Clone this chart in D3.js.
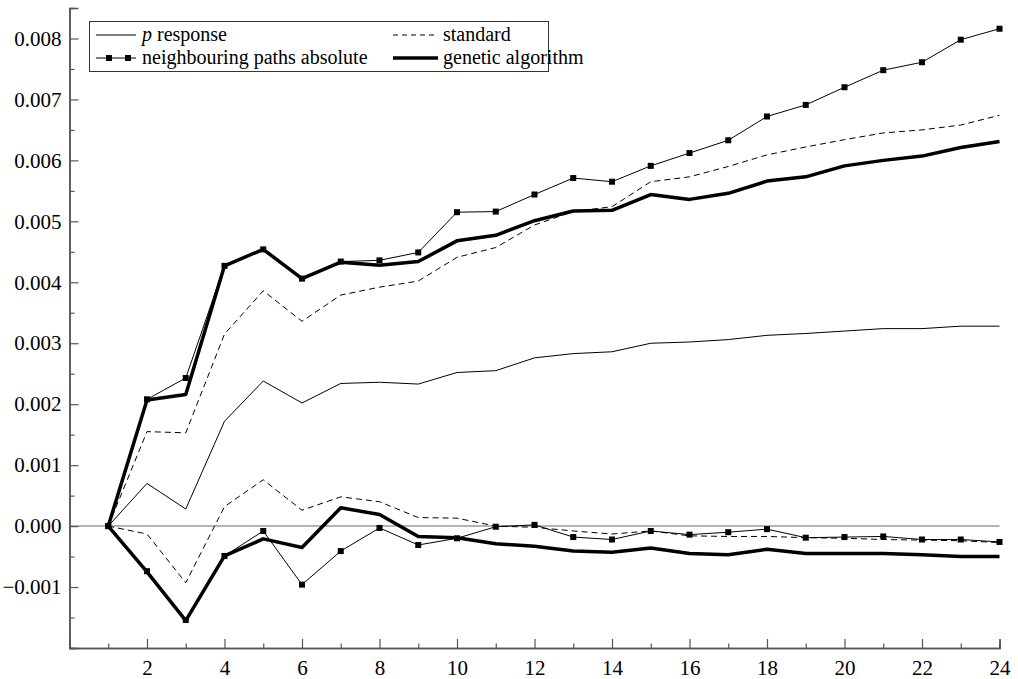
<!DOCTYPE html>
<html>
<head>
<meta charset="utf-8">
<script src="https://cdn.jsdelivr.net/npm/d3@7"></script>
<style>
  html, body { margin: 0; padding: 0; background: #fff; }
  svg { display: block; }
</style>
</head>
<body>
<svg id="chart" width="1018" height="679"></svg>
<script>
// ---- data ----
const periods = d3.range(1, 25);
const xTickLabels = [2, 4, 6, 8, 10, 12, 14, 16, 18, 20, 22, 24];
const yTickValues = [-0.001, 0, 0.001, 0.002, 0.003, 0.004, 0.005, 0.006, 0.007, 0.008];

const pResponse = [0, 0.0007, 0.00028, 0.00172, 0.00238, 0.00202, 0.00234, 0.00236, 0.00233, 0.00252, 0.00255, 0.00276, 0.00283, 0.00286, 0.003, 0.00302, 0.00306, 0.00313, 0.00316, 0.0032, 0.00324, 0.00324, 0.00328, 0.00328];
const standardUpper = [0, 0.00155, 0.00153, 0.00315, 0.00386, 0.00336, 0.00379, 0.00392, 0.00402, 0.00441, 0.00457, 0.00494, 0.00516, 0.00524, 0.00565, 0.00573, 0.0059, 0.00609, 0.00622, 0.00634, 0.00645, 0.0065, 0.00658, 0.00674];
const standardLower = [0, -0.00013, -0.00093, 0.00032, 0.00076, 0.00026, 0.00048, 0.0004, 0.00014, 0.00013, 0.0, -0.00002, -0.00008, -0.00013, -0.00008, -0.00016, -0.00017, -0.00017, -0.00019, -0.0002, -0.00022, -0.00023, -0.00024, -0.00027];
const neighbourUpper = [0, 0.00208, 0.00243, 0.00427, 0.00454, 0.00406, 0.00434, 0.00436, 0.00449, 0.00515, 0.00516, 0.00544, 0.00571, 0.00565, 0.00591, 0.00612, 0.00633, 0.00672, 0.00691, 0.0072, 0.00748, 0.00761, 0.00798, 0.00816];
const neighbourLower = [0, -0.00074, -0.00154, -0.00049, -0.00008, -0.00096, -0.00041, -0.00003, -0.00031, -0.0002, -0.00001, 0.00002, -0.00018, -0.00022, -0.00008, -0.00014, -0.0001, -0.00005, -0.00019, -0.00018, -0.00017, -0.00022, -0.00022, -0.00026];
const geneticUpper = [0, 0.00207, 0.00216, 0.00427, 0.00454, 0.00406, 0.00433, 0.00428, 0.00434, 0.00468, 0.00477, 0.00501, 0.00517, 0.00518, 0.00544, 0.00536, 0.00546, 0.00566, 0.00573, 0.00591, 0.006, 0.00607, 0.00621, 0.00631];
const geneticLower = [0, -0.00075, -0.00155, -0.00049, -0.00021, -0.00035, 0.0003, 0.00019, -0.00017, -0.00019, -0.00029, -0.00033, -0.00041, -0.00043, -0.00036, -0.00045, -0.00047, -0.00038, -0.00045, -0.00045, -0.00045, -0.00047, -0.0005, -0.0005];

// ---- scales ----
const FONT = '"Liberation Serif"';
const svg = d3.select("#chart");
const x = d3.scaleLinear().domain([0, 24]).range([69.5, 999.5]);
const y = d3.scaleLinear().domain([-0.002, 0.0085]).range([648, 8]);

const line = d3.line().x((d, i) => x(periods[i])).y(d => y(d));

// zero line
svg.append("line")
  .attr("x1", x(0)).attr("x2", x(24))
  .attr("y1", y(0)).attr("y2", y(0))
  .attr("stroke", "#9a9a9a").attr("stroke-width", 1.5);

function drawLine(data, opts) {
  svg.append("path").datum(data)
    .attr("d", line)
    .attr("fill", "none")
    .attr("stroke", "#000")
    .attr("stroke-width", opts.width)
    .attr("stroke-dasharray", opts.dash || null)
    .attr("stroke-linejoin", "round");
  if (opts.markers) {
    svg.append("g").selectAll("rect").data(data).join("rect")
      .attr("x", (d, i) => x(periods[i]) - 3)
      .attr("y", d => y(d) - 3)
      .attr("width", 6).attr("height", 6)
      .attr("fill", "#000");
  }
}

drawLine(pResponse, { width: 1 });
drawLine(standardUpper, { width: 1, dash: "6,4" });
drawLine(standardLower, { width: 1, dash: "6,4" });
drawLine(geneticUpper, { width: 3.5 });
drawLine(geneticLower, { width: 3.5 });
drawLine(neighbourUpper, { width: 1, markers: true });
drawLine(neighbourLower, { width: 1, markers: true });

// ---- axes ----
const axisColor = "#555";
const yAxis = svg.append("g").attr("transform", `translate(${x(0)},0)`)
  .call(d3.axisRight(y).tickValues(yTickValues).tickSize(9).tickFormat(d3.format(".3f")));
const yMinor = svg.append("g").attr("transform", `translate(${x(0)},0)`)
  .call(d3.axisRight(y).tickValues(d3.range(-0.0015, 0.008, 0.001)).tickSize(5).tickFormat(""));
[yAxis, yMinor].forEach(g => {
  g.attr("font-family", null).attr("font-size", null);
  g.select(".domain").attr("stroke", axisColor).attr("stroke-width", 1.5);
  g.selectAll(".tick line").attr("stroke", axisColor).attr("stroke-width", 1.2);
});
yAxis.selectAll(".tick text")
  .attr("x", -8).attr("text-anchor", "end")
  .attr("fill", "#000")
  .style("font-family", FONT).style("font-size", "21px");

const xAxis = svg.append("g").attr("transform", `translate(0,${y(-0.002)})`)
  .call(d3.axisTop(x).tickValues(xTickLabels).tickSize(9));
const xMinor = svg.append("g").attr("transform", `translate(0,${y(-0.002)})`)
  .call(d3.axisTop(x).tickValues(d3.range(1, 24, 2)).tickSize(4.5).tickFormat(""));
[xAxis, xMinor].forEach(g => {
  g.attr("font-family", null).attr("font-size", null);
  g.select(".domain").attr("stroke", axisColor).attr("stroke-width", 1.5);
  g.selectAll(".tick line").attr("stroke", axisColor).attr("stroke-width", 1.2);
});
xAxis.selectAll(".tick text")
  .attr("y", 12).attr("dy", "0.71em")
  .attr("fill", "#000")
  .style("font-family", FONT).style("font-size", "21px");

// ---- legend ----
const lg = svg.append("g");
lg.append("rect").attr("x", 89.5).attr("y", 21.5).attr("width", 459).attr("height", 50)
  .attr("fill", "#fff").attr("stroke", "#333").attr("stroke-width", 1);
const rows = [35, 58];
const legendItems = [
  { col: 0, row: 0, label: "response", italic: "p", width: 1 },
  { col: 1, row: 0, label: "standard", width: 1, dash: "5,4" },
  { col: 0, row: 1, label: "neighbouring paths absolute", width: 1, markers: true },
  { col: 1, row: 1, label: "genetic algorithm", width: 3.5 }
];
const colX = [[96, 136, 142], [393, 438, 443]];
legendItems.forEach(it => {
  const [x1, x2, tx] = colX[it.col];
  const yy = rows[it.row];
  lg.append("line").attr("x1", x1).attr("x2", x2).attr("y1", yy).attr("y2", yy)
    .attr("stroke", "#000").attr("stroke-width", it.width)
    .attr("stroke-dasharray", it.dash || null);
  if (it.markers) {
    [109, 128].forEach(mx => lg.append("rect").attr("x", mx - 3).attr("y", yy - 3)
      .attr("width", 6).attr("height", 6).attr("fill", "#000"));
  }
  const t = lg.append("text").attr("x", tx).attr("y", yy).attr("dy", "0.3em")
    .attr("fill", "#000")
    .style("font-family", FONT).style("font-size", "20px");
  if (it.italic) {
    t.append("tspan").style("font-style", "italic").text(it.italic);
    t.append("tspan").text(" " + it.label);
  } else {
    t.text(it.label);
  }
});
</script>
</body>
</html>
